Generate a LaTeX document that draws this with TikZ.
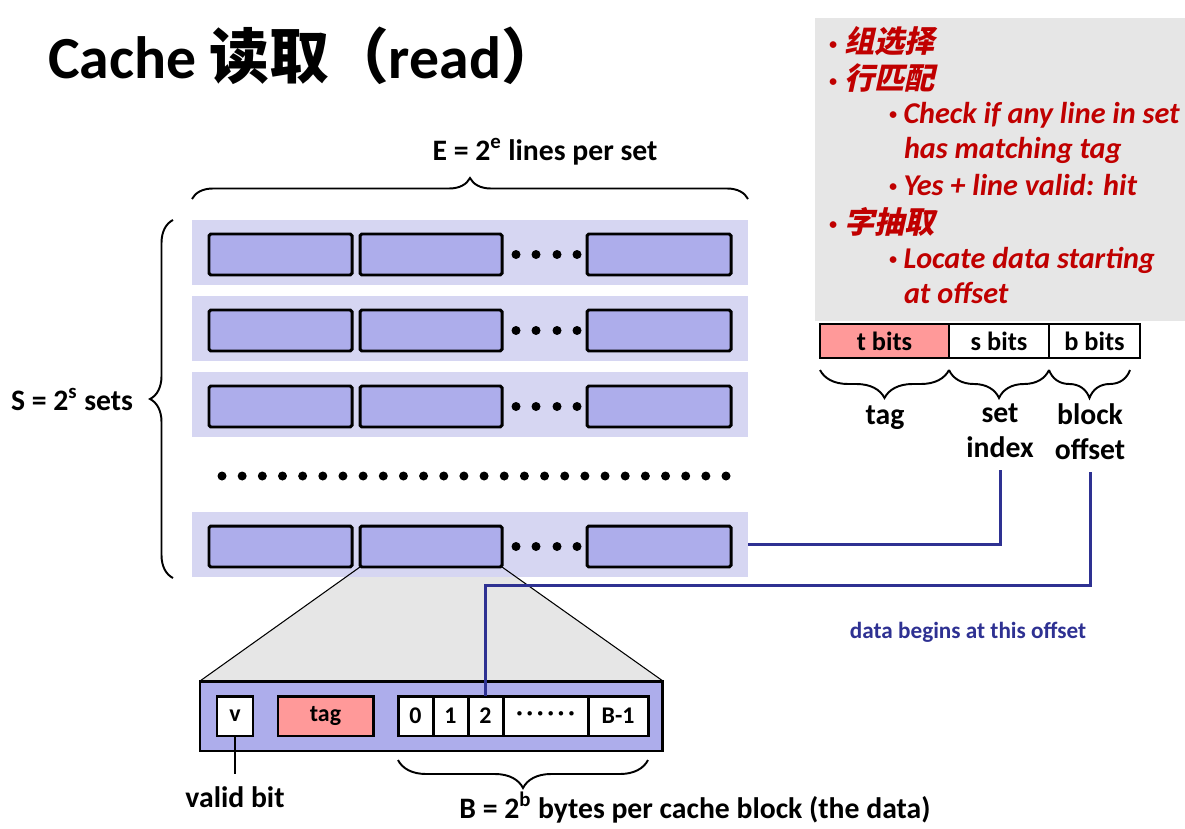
\documentclass[tikz,border=0pt]{standalone}
\usepackage{fontspec}
\setmainfont{Carlito}
\newfontfamily\cjk{Noto Sans CJK SC}
\newfontfamily\cjkslant[FakeSlant=0.22, BoldFeatures={FakeSlant=0.22}]{Noto Sans CJK SC}
\usetikzlibrary{positioning,decorations.pathreplacing,backgrounds}
\definecolor{setbg}{RGB}{214,214,242}
\definecolor{linefill}{RGB}{173,173,235}
\definecolor{tagpink}{RGB}{255,153,153}
\definecolor{navy}{RGB}{46,49,146}
\definecolor{panel}{RGB}{230,230,230}
\definecolor{darkred}{RGB}{192,0,0}
\newcommand{\pt}[1]{\makebox[#1][l]{\raisebox{0.12em}{\fontsize{9}{9}\selectfont•}}}
\tikzset{
  setrow/.style={fill=setbg, anchor=north west, minimum width=11.12cm, minimum height=1.3cm},
  linebox/.style={draw, fill=linefill, line width=1.7pt, rounded corners=1pt, anchor=north west,
    minimum width=#1*0.02cm, minimum height=0.82cm},
  cell/.style={draw, fill=white, line width=1.7pt, anchor=north west, minimum width=#1*0.02cm,
    minimum height=0.8cm, font=\bfseries\fontsize{13.6}{15}\selectfont},
  bitbox/.style={draw, line width=1pt, anchor=north west, minimum width=#1*0.02cm,
    minimum height=0.68cm, font=\bfseries\fontsize{15}{17}\selectfont},
  lbl/.style={font=\bfseries\fontsize{16.9}{20}\selectfont, align=center},
  note/.style={anchor=base west, text=darkred, font=\bfseries\itshape\fontsize{17.2}{20}\selectfont},
  wire/.style={navy, line width=1.7pt},
  curly/.style={decorate, decoration={brace, amplitude=#1}, line width=1.1pt},
}
\begin{document}
\begin{tikzpicture}[x=0.02cm, y=-0.02cm, every node/.style={inner sep=0pt, outer sep=0pt}]
  \useasboundingbox (0,0) rectangle (1185,828);

  % title
  \node[anchor=base west, font=\bfseries\fontsize{34}{40}\selectfont] (title) at (48,78)
    {Cache {\cjk 读取（}read{\cjk ）}};

  % cache sets: S rows of E lines
  \foreach \r/\y in {1/220, 2/296, 3/372, 4/512} {
    \node[setrow] (s\r) at (192,\y) {};
    \node[linebox=143] (s\r-1) at (209,\y+14) {};
    \node[linebox=142] (s\r-2) at (360,\y+14) {};
    \node[linebox=144] (s\r-E) at (587,\y+14) {};
    \foreach \d in {516,536,557,577}
      \fill (\d,\y+34.5) circle (0.09cm);
  }
  \foreach \i in {0,...,25}
    \fill (222+\i*20.16,476) circle (0.09cm);

  \draw[curly=0.42cm] (192,199) -- (748,199);
  \node[lbl, anchor=base] (Elbl) at (545,160) {E = 2\textsuperscript{e} lines per set};
  \draw[curly=0.46cm] (173,578) -- (173,220);
  \node[lbl, anchor=base east] (Slbl) at (133,410) {S = 2\textsuperscript{s} sets};

  % one line, blown up
  \node[draw, fill=linefill, line width=1.7pt, anchor=north west, minimum width=9.26cm,
    minimum height=1.4cm] (blk) at (200,681) {};
  \begin{pgfonlayer}{background}
    \fill[panel] (s4-2.south west) -- (s4-2.south east) -- (blk.north east) -- (blk.north west) -- cycle;
  \end{pgfonlayer}
  \draw[line width=0.6pt] (s4-2.south west) -- (blk.north west);
  \draw[line width=0.6pt] (s4-2.south east) -- (blk.north east);

  \node[cell=36] (v) at (217,696) {v};
  \node[cell=95, fill=tagpink] (tag) at (278,696) {tag};
  \node[cell=35] (c0) at (398,696) {0};
  \node[cell=35] (c1) at (433,696) {1};
  \node[cell=35] (c2) at (468,696) {2};
  \node[cell=85] (cdots) at (503,696) {·\,·\,·\,·\,·\,·};
  \node[cell=60] (cB) at (588,696) {B-1};

  \node[lbl, anchor=base] (vlbl) at (235,807) {valid bit};
  \draw[line width=0.6pt, shorten >=0.24cm] (v.south) -- (v.south |- vlbl.north);
  \draw[curly=0.56cm] (648,760) -- (398,760);
  \node[lbl, anchor=base] (Blbl) at (695,818) {B = 2\textsuperscript{b} bytes per cache block (the data)};

  % read steps
  \node[fill=panel, anchor=north west, minimum width=7.4cm, minimum height=6.06cm] (panel) at (815,18) {};
  \node[note] (n1) at (829,53) {\pt{0.3cm}{\cjkslant 组选择}};
  \node[note] (n2) at (829,90) {\pt{0.3cm}{\cjkslant 行匹配}};
  \node[note] (n3) at (889,123) {\pt{0.29cm}Check if any line in set};
  \node[note] (n4) at (904,158) {has matching tag};
  \node[note] (n5) at (889,195) {\pt{0.29cm}Yes + line valid: hit};
  \node[note] (n6) at (829,233) {\pt{0.3cm}{\cjkslant 字抽取}};
  \node[note] (n7) at (889,268) {\pt{0.29cm}Locate data starting};
  \node[note] (n8) at (904,303) {at offset};

  % address bits
  \node[bitbox=129, fill=tagpink] (tb) at (820,324) {t bits};
  \node[bitbox=100] (sb) at (949,324) {s bits};
  \node[bitbox=91] (bb) at (1049,324) {b bits};
  \draw[curly=0.56cm] (949,370) -- (820,370);
  \draw[curly=0.56cm] (1049,370) -- (949,370);
  \draw[curly=0.56cm] (1130,370) -- (1049,370);
  \node[lbl, anchor=base] (taglbl) at (885,424) {tag};
  \node[lbl, anchor=north] (setlbl) at (1000,404) {set\\index};
  \node[lbl, anchor=north] (offlbl) at (1090,404) {block\\offset};

  \draw[wire] ([yshift=-0.24cm]setlbl.south) |- (s4.east);
  \coordinate (jog) at (1090,585);
  \draw[wire] ([yshift=-0.24cm]offlbl.south) -- (jog) -| (c2.north);
  \node[anchor=base, text=navy, font=\bfseries\fontsize{13.2}{15}\selectfont] (offnote) at (968,638)
    {data begins at this offset};
\end{tikzpicture}
\end{document}
